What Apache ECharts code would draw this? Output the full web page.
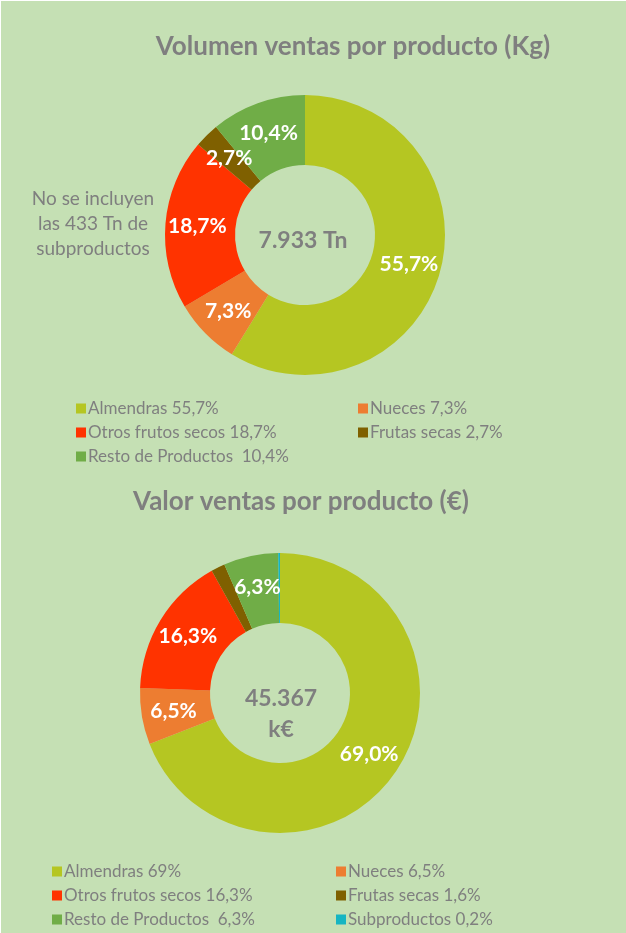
<!DOCTYPE html>
<html>
<head>
<meta charset="utf-8">
<script src="https://cdn.jsdelivr.net/npm/echarts@6/dist/echarts.min.js"></script>
<style>
html,body{margin:0;padding:0;background:#ffffff;}
#chart{position:absolute;left:1px;top:1px;width:625px;height:932px;}
</style>
</head>
<body>
<div id="chart"></div>
<script>

// data

const productos = ["Almendras","Nueces","Otros frutos secos","Frutas secas","Resto de Productos","Subproductos"]

const volumenPct = [55.7,7.3,18.7,2.7,10.4]
const valorPct = [69.0,6.5,16.3,1.6,6.3,0.2]

const volumenLeyenda = ["Almendras 55,7%","Nueces 7,3%","Otros frutos secos 18,7%","Frutas secas 2,7%","Resto de Productos  10,4%"]
const valorLeyenda = ["Almendras 69%","Nueces 6,5%","Otros frutos secos 16,3%","Frutas secas 1,6%","Resto de Productos  6,3%","Subproductos 0,2%"]

const valorSinEtiqueta = ["Frutas secas","Subproductos"]

const titulos = ["Volumen ventas por producto (Kg)","Valor ventas por producto (€)"]
const totalVolumen = "7.933 Tn"
const totalValor = ["45.367","k€"]
const nota = ["No se incluyen","las 433 Tn de","subproductos"]

const colores = ["#B5C622","#ED7D31","#FF3300","#7F6000","#70AD47","#16B5C2"]

/* -------------------------
styles
------------------------- */

const FONT = "Lato"
const GRIS = "#7F7F7F"

function pct(v){
return v.toFixed(1).replace(".",",") + "%"
}

function buildData(values, hidden){
return values.map((v,i) => {
const item = {
name:productos[i],
value:v,
itemStyle:{color:colores[i]}
}
if(hidden && hidden.includes(productos[i])){
item.label = {show:false}
}
return item
})
}

function leyenda(names, textos, left, top){
return {
data:names,
orient:"vertical",
left:left,
top:top,
padding:0,
icon:"rect",
itemWidth:10,
itemHeight:10,
itemGap:7,
selectedMode:false,
formatter:function(name){
return textos[productos.indexOf(name)]
},
textStyle:{
fontFamily:FONT,
fontSize:17,
color:GRIS,
lineHeight:17,
padding:[0,0,0,-3]
}
}
}

const el = document.getElementById("chart")
const chart = echarts.init(el)

const pieLabel = {
show:true,
position:"inside",
color:"#ffffff",
fontFamily:FONT,
fontWeight:"bold",
fontSize:21,
formatter:p => pct(p.value)
}

chart.setOption({

backgroundColor:"#C5E0B4",
animation:false,

legend:[
leyenda([productos[0],productos[2],productos[4]], volumenLeyenda, 75, 399),
leyenda([productos[1],productos[3]], volumenLeyenda, 357, 399),
leyenda([productos[0],productos[2],productos[4]], valorLeyenda, 51, 862),
leyenda([productos[1],productos[3],productos[5]], valorLeyenda, 335, 862)
],

graphic:[
{type:"text",x:352,y:46,style:{text:titulos[0],font:"bold 26px " + FONT,fill:GRIS,align:"center",verticalAlign:"middle"}},
{type:"text",x:300,y:501,style:{text:titulos[1],font:"bold 26px " + FONT,fill:GRIS,align:"center",verticalAlign:"middle"}},
{type:"text",x:302,y:240,style:{text:totalVolumen,font:"bold 23px " + FONT,fill:GRIS,align:"center",verticalAlign:"middle"}},
{type:"text",x:280,y:713,style:{text:totalValor.join("\n"),font:"bold 23px " + FONT,fill:GRIS,align:"center",verticalAlign:"middle",lineHeight:31}},
{type:"text",x:92,y:223,style:{text:nota.join("\n"),font:"19px " + FONT,fill:GRIS,align:"center",verticalAlign:"middle",lineHeight:25}}
],

series:[
{
name:"Volumen",
type:"pie",
center:[304,234],
radius:[70,140],
startAngle:90,
clockwise:true,
avoidLabelOverlap:false,
label:pieLabel,
labelLine:{show:false},
emphasis:{disabled:true},
data:buildData(volumenPct, null)
},
{
name:"Valor",
type:"pie",
center:[279,692],
radius:[70,140],
startAngle:90,
clockwise:true,
avoidLabelOverlap:false,
label:pieLabel,
labelLine:{show:false},
emphasis:{disabled:true},
data:buildData(valorPct, valorSinEtiqueta)
}
]

})

</script>
</body>
</html>
